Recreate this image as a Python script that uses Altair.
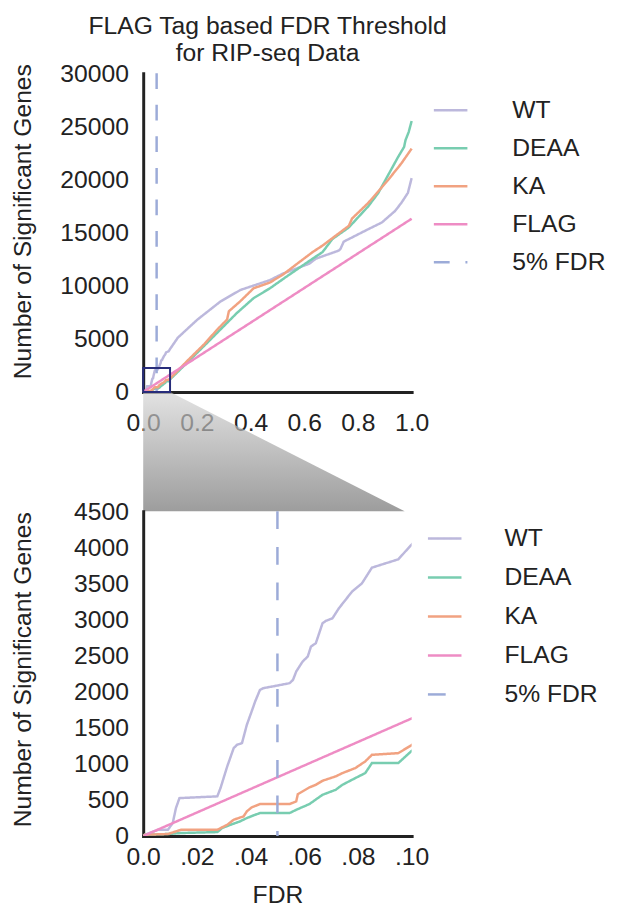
import altair as alt
import pandas as pd

FONT = "Liberation Sans"
INK = "#222222"

SERIES = ["WT", "DEAA", "KA", "FLAG", "5% FDR"]
COLORS = ["#bcb8dc", "#78cdb0", "#f1a281", "#ee8cc4", "#9cabd8"]

# ---- data (FDR, number of significant genes) ----
wt_fdr = [0, 0.0006, 0.0055, 0.0092, 0.011, 0.0122, 0.0135, 0.0276, 0.0288, 0.0313,
          0.0337, 0.0349, 0.0368, 0.0386, 0.0404, 0.0417, 0.0435, 0.0447, 0.0545, 0.0558,
          0.0570, 0.0594, 0.0613, 0.0625, 0.0643, 0.0668, 0.0680, 0.0705, 0.0729, 0.0778,
          0.0815, 0.0852, 0.0950, 0.1000, 0.129, 0.202, 0.288, 0.362, 0.472, 0.521,
          0.619, 0.643, 0.729, 0.735, 0.747, 0.839, 0.889, 0.938, 0.962, 0.986, 1.0]
wt_n = [0, 18, 87, 87, 180, 388, 526, 550, 665, 965,
        1218, 1264, 1288, 1541, 1727, 1865, 2026, 2049, 2118, 2164,
        2280, 2419, 2488, 2627, 2672, 2949, 2981, 3018, 3157, 3388,
        3503, 3720, 3835, 4040, 5108, 6808, 8517, 9595, 10523, 11146,
        12075, 12539, 13310, 13467, 14145, 15325, 15948, 17025, 17805, 18734, 20127]

deaa_fdr = [0, 0.0006, 0.0092, 0.0141, 0.0276, 0.0294, 0.0325, 0.0361, 0.0386, 0.0417,
            0.0435, 0.0545, 0.0570, 0.0619, 0.0668, 0.0717, 0.0742, 0.0790, 0.0827, 0.0852,
            0.0950, 0.1000, 0.165, 0.227, 0.288, 0.3125, 0.349, 0.411, 0.472, 0.533,
            0.595, 0.631, 0.668, 0.705, 0.766, 0.839, 0.876, 0.913, 0.950, 0.972,
            0.977, 0.989, 1.0]
deaa_n = [0, 18, 28, 42, 55, 111, 156, 204, 249, 295,
          318, 318, 364, 443, 572, 641, 710, 803, 872, 1011,
          1011, 1180, 2786, 4338, 5879, 6502, 7430, 8824, 9752, 10839,
          11917, 12539, 13161, 14396, 15483, 17489, 18734, 20434, 22133, 23062,
          23684, 24455, 25500]

ka_fdr = [0, 0.0006, 0.0092, 0.0129, 0.0141, 0.0276, 0.0313, 0.0337, 0.0374, 0.0386,
          0.0404, 0.0435, 0.0545, 0.0570, 0.0576, 0.0619, 0.0643, 0.0668, 0.0717, 0.0742,
          0.0790, 0.0827, 0.0852, 0.0950, 0.1000, 0.165, 0.227, 0.276, 0.3125, 0.319,
          0.361, 0.411, 0.472, 0.521, 0.570, 0.631, 0.668, 0.766, 0.778, 0.839,
          0.913, 0.962, 1.0]
ka_n = [0, 18, 28, 73, 87, 87, 156, 226, 273, 342,
        397, 443, 443, 480, 581, 674, 710, 766, 827, 872,
        942, 1034, 1126, 1149, 1260, 2944, 4486, 5879, 6808, 7589,
        8517, 9752, 10300, 11050, 12000, 13161, 13774, 15632, 16319, 17805,
        19969, 21520, 22900]

flag_fdr = [0, 0.1, 1.0]
flag_n = [0, 1630, 16300]

fdr_cut = [0.05]

top_y_ticks = [0, 5000, 10000, 15000, 20000, 25000, 30000]
top_x_ticks = [0.0, 0.2, 0.4, 0.6, 0.8, 1.0]
bot_y_ticks = [0, 500, 1000, 1500, 2000, 2500, 3000, 3500, 4000, 4500]
bot_x_ticks = [0.0, 0.02, 0.04, 0.06, 0.08, 0.10]
bot_x_labels = ["0.0", ".02", ".04", ".06", ".08", ".10"]

# zoom box (in top-chart data units) and connector wedge
box = pd.DataFrame({"x": [0.0], "x2": [0.1], "y": [0], "y2": [2250]})
wedge_x = [0.0, 0.1, 0.974]
wedge_top = [0, 0, -11230]
wedge_bottom = [-11230, -11230, -11230]

# ---- tables ----
rows = []
for name, xs, ys in [("WT", wt_fdr, wt_n), ("DEAA", deaa_fdr, deaa_n),
                     ("KA", ka_fdr, ka_n), ("FLAG", flag_fdr, flag_n)]:
    for a, b in zip(xs, ys):
        rows.append({"series": name, "fdr": a, "n": b})
lines_df = pd.DataFrame(rows)
rule_df = pd.DataFrame({"fdr": fdr_cut, "series": ["5% FDR"]})
wedge_df = pd.DataFrame({"x": wedge_x, "y": wedge_top, "y2": wedge_bottom})


def make_panel(xdom, ydom, xticks, yticks, x_label_expr, x_title, h, title_y,
               dash, leg_x, leg_y, leg_off, row_pad, x_lab_pad, clip):
    xscale = alt.Scale(domain=xdom, nice=False, zero=False)
    yscale = alt.Scale(domain=ydom, nice=False)
    legend = alt.Legend(title=None, orient="none", legendX=leg_x, legendY=leg_y,
                        symbolType="stroke", symbolSize=1156, symbolStrokeWidth=2.5,
                        labelFontSize=25, labelFont=FONT, labelColor=INK,
                        labelOffset=leg_off, rowPadding=row_pad, padding=0, labelLimit=0)
    color = alt.Color("series:N", scale=alt.Scale(domain=SERIES, range=COLORS), legend=legend)
    sdash = alt.StrokeDash("series:N",
                           scale=alt.Scale(domain=SERIES,
                                           range=[[1, 0], [1, 0], [1, 0], [1, 0], dash]),
                           legend=legend)
    xaxis = alt.Axis(values=xticks, labelExpr=x_label_expr, title=x_title,
                     labelPadding=x_lab_pad, labelFlush=False, labelOverlap=False,
                     titlePadding=13)
    yaxis = alt.Axis(values=yticks, format="d", title="Number of Significant Genes",
                     labelPadding=15, labelOverlap=False, titleX=-122, titleY=title_y,
                     titleBaseline="middle", titleAngle=270)
    x = alt.X("fdr:Q", scale=xscale, axis=xaxis)
    y = alt.Y("n:Q", scale=yscale, axis=yaxis)
    lines = alt.Chart(lines_df).mark_line(strokeWidth=2.5, clip=clip).encode(
        x=x, y=y, color=color, strokeDash=sdash)
    rule = alt.Chart(rule_df).mark_rule(strokeWidth=2.5).encode(
        x=alt.X("fdr:Q", scale=xscale), color=color, strokeDash=sdash)
    return lines, rule


top_lines, top_rule = make_panel(
    [0, 1], [0, 30000], top_x_ticks, top_y_ticks,
    "format(datum.value, '.1f')", None, 323, 150,
    [16, 16], 293, 19, 44, 6.5, 19, False)

grad = alt.Gradient(gradient="linear",
                    stops=[alt.GradientStop(color="#d6d6d6", offset=0),
                           alt.GradientStop(color="#737373", offset=1)],
                    x1=0, x2=0, y1=0, y2=1)
wedge = alt.Chart(wedge_df).mark_area(color=grad, opacity=0.7, clip=False).encode(
    x=alt.X("x:Q", scale=alt.Scale(domain=[0, 1], nice=False)),
    y=alt.Y("y:Q", scale=alt.Scale(domain=[0, 30000], nice=False)),
    y2="y2:Q")
box_layer = alt.Chart(box).mark_rect(fill="transparent", stroke="#272c7a", strokeWidth=2).encode(
    x=alt.X("x:Q"), x2="x2:Q", y=alt.Y("y:Q"), y2="y2:Q")

top = alt.layer(wedge, top_lines, top_rule, box_layer).properties(
    width=272, height=323,
    title=alt.TitleParams(["FLAG Tag based FDR Threshold", "for RIP-seq Data"],
                          fontSize=25, font=FONT, color=INK, fontWeight="normal",
                          anchor="middle", frame="group", lineHeight=28, offset=-5, dx=-10))

label_map = "{" + ", ".join(f"'{v:.2f}': '{l}'" for v, l in zip(bot_x_ticks, bot_x_labels)) + "}"
bot_lines, bot_rule = make_panel(
    [0, 0.1], [0, 4500], bot_x_ticks, bot_y_ticks,
    label_map + "[format(datum.value, '.2f')]", "FDR", 329, 160,
    [18, 18], 287, 9, 42, 7.5, 9, True)

bottom = alt.layer(bot_lines, bot_rule).properties(width=272, height=329)

chart = alt.vconcat(top, bottom, spacing=121, bounds="flush",
                    padding={"left": 3, "top": 0, "right": 5, "bottom": 5}).resolve_scale(
    color="independent", strokeDash="independent", x="independent", y="independent"
).resolve_legend(color="independent", strokeDash="independent").configure_view(
    strokeWidth=0
).configure_axis(
    grid=False, ticks=False, tickSize=0, domainColor=INK, domainWidth=3, domainCap="square",
    labelFont=FONT, labelFontSize=25, labelColor=INK,
    titleFont=FONT, titleFontSize=25, titleFontWeight="normal", titleColor=INK
)

chart.save("out.html", embed_options={"renderer": "svg", "actions": False})
